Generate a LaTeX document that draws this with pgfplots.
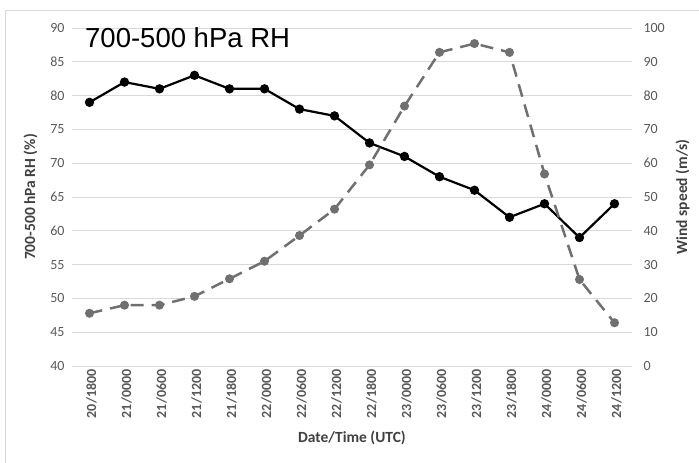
\documentclass[border=0pt]{standalone}
\usepackage{fontspec}
\setmainfont{Carlito}
\newfontfamily\titlefont{Liberation Sans}
\usepackage{pgfplots}
\usepackage{pgfplotstable}
\pgfplotsset{compat=1.18}
\definecolor{tickgray}{HTML}{595959}
\definecolor{labgray}{HTML}{404040}
\definecolor{gridgray}{HTML}{D9D9D9}
\definecolor{windgray}{HTML}{707070}

\pgfplotstableread{
idx rh wind
0  79 15.6
1  82 18.0
2  81 18.0
3  83 20.6
4  81 25.8
5  81 31.0
6  78 38.6
7  77 46.4
8  73 59.5
9  71 76.9
10 68 92.8
11 66 95.4
12 62 92.8
13 64 56.8
14 59 25.6
15 64 12.8
}\data

\pgfplotsset{
  common/.style={
    at={(72pt,97pt)}, anchor=south west,
    scale only axis, width=560pt, height=338pt,
    xmin=-0.5, xmax=15.5,
    axis line style={draw=none}, major tick length=0pt,
    /pgf/number format/assume math mode=true,
    ylabel style={font=\bfseries\fontsize{15.5}{18}\selectfont, text=labgray},
  }
}

\begin{document}
\begin{tikzpicture}
\path[use as bounding box] (0pt,0pt) rectangle (699pt,463pt);
\draw[gridgray, line width=1pt] (5pt,-2pt) -- (5pt,452pt) -- (701pt,452pt);
\begin{axis}[common,
  ymin=40, ymax=90, ytick={40,45,...,90},
  ymajorgrids, grid style={gridgray, line width=0.8pt},
  y tick label style={font=\fontsize{14}{16}\selectfont, text=tickgray, xshift=-4pt},
  xtick={0,...,15},
  xticklabels={20/1800,21/0000,21/0600,21/1200,21/1800,22/0000,22/0600,22/1200,22/1800,23/0000,23/0600,23/1200,23/1800,24/0000,24/0600,24/1200},
  x tick label style={rotate=90, anchor=east, font=\bfseries\fontsize{14}{16}\selectfont, text=tickgray, yshift=-2pt},
  xlabel={Date/Time (UTC)},
  xlabel style={font=\bfseries\fontsize{15.5}{18}\selectfont, text=labgray, yshift=-6pt},
  ylabel={700-500 hPa RH (\%)},
  ylabel style={yshift=6pt},
]
\addplot[black, line width=2.2pt, mark=*, mark size=3.5pt] table[x=idx, y=rh] {\data};
\end{axis}
\begin{axis}[common,
  ymin=0, ymax=100, ytick={0,10,...,100},
  y tick label style={font=\fontsize{14}{16}\selectfont, text=tickgray, xshift=8pt},
  axis y line*=right, axis x line=none,
  ylabel={Wind speed (m/s)},
  ylabel style={yshift=-4pt},
]
\addplot[windgray, line width=2.5pt, dash pattern=on 13pt off 8pt, mark=*, mark size=3.2pt, mark options={solid}] table[x=idx, y=wind] {\data};
\end{axis}
\node[anchor=west, font=\titlefont\fontsize{27.5}{32}\selectfont, inner sep=0pt] at (85pt,425pt) {700-500 hPa RH};
\end{tikzpicture}
\end{document}
